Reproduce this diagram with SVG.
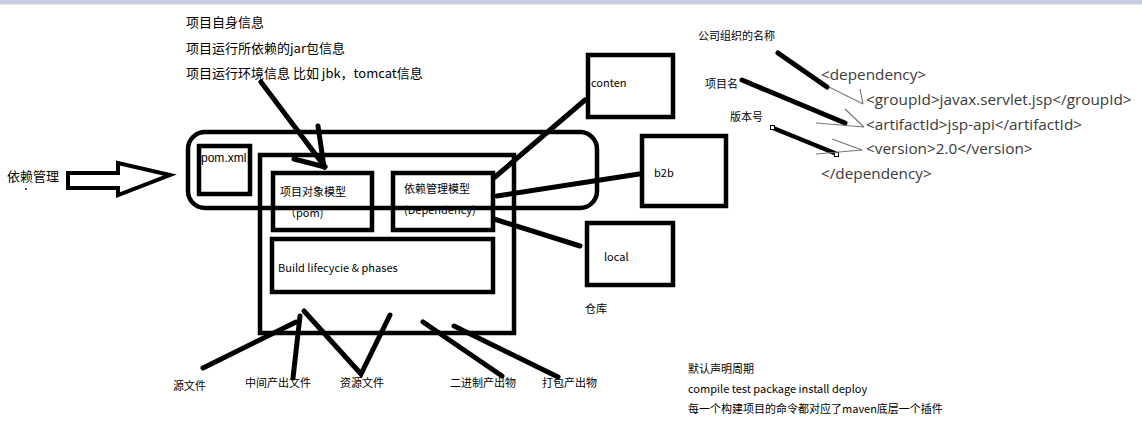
<svg xmlns="http://www.w3.org/2000/svg" width="1142" height="440" viewBox="0 0 1142 440">
<style>
.t{font-family:"Noto Sans CJK SC","Liberation Sans",sans-serif;fill:#000}
.t13{font-size:13px}
.t12{font-size:12px}
.t11{font-size:11px}
.lat{font-family:"Liberation Sans",sans-serif;font-size:12px;fill:#000}
.code{font-family:"Open Sans","Liberation Sans",sans-serif;font-size:15.3px;fill:#3a3a3a}
.box{fill:none;stroke:#000;stroke-width:4.5}
.ln{stroke:#000;stroke-width:5;stroke-linecap:round;fill:none}
.thin{stroke:#777;stroke-width:1.2;fill:none}
</style>
<rect x="0" y="0" width="1142" height="440" fill="#fff"/>
<rect x="0" y="0" width="1142" height="4.5" fill="#c5cfe0"/>

<g id="info-text">
<text class="t t13" x="186" y="27">项目自身信息</text>
<text class="t t13" x="186" y="53">项目运行所依赖的jar包信息</text>
<text class="t t13" x="186" y="78">项目运行环境信息 比如 jbk，tomcat信息</text>
</g>

<g id="dep-mgmt">
<text class="t t13" x="7" y="181">依赖管理</text>
<rect x="25" y="188" width="2" height="2" fill="#555"/>
<polygon points="68,173 118,173 118,163 170,175 118,195 118,188 68,188" fill="#fff" stroke="#000" stroke-width="4" stroke-linejoin="miter"/>
</g>

<g id="outer-pom">
<rect class="box" x="188" y="132" width="409" height="76" rx="17" ry="17"/>
</g>
<g id="pom-xml">
<rect class="box" x="199" y="146" width="51" height="48" fill="#fff"/>
<text class="lat" x="201" y="162">pom.xml</text>
</g>
<g id="maven-core">
<rect class="box" x="260" y="155" width="254" height="178" fill="#fff"/>
</g>
<g id="pom-model">
<rect class="box" x="273" y="173" width="99" height="57"/>
<text class="t t11" x="280" y="196">项目对象模型</text>
<text class="t t11" x="285" y="217">（pom)</text>
</g>
<g id="dependency-model">
<rect class="box" x="393" y="173" width="100" height="57"/>
<text class="t t11" x="404" y="193">依赖管理模型</text>
<text class="t t11" x="404" y="214">(Dependency)</text>
</g>
<g id="build-lifecycle">
<rect class="box" x="272" y="239" width="221" height="53"/>
<text class="t t11" x="278" y="272">Build lifecycie &amp; phases</text>
</g>

<g id="conten">
<rect class="box" x="588" y="55" width="85" height="62"/>
<text class="t t11" x="591" y="87">conten</text>
</g>
<g id="b2b">
<rect class="box" x="642" y="136" width="84" height="70"/>
<text class="t t11" x="654" y="177">b2b</text>
</g>
<g id="local">
<rect class="box" x="587" y="223" width="86" height="62"/>
<text class="t t11" x="604" y="261">local</text>
</g>
<text class="t t11" x="585" y="313">仓库</text>

<g id="connectors">
<line class="ln" x1="261" y1="82" x2="325" y2="167"/>
<line class="ln" x1="318" y1="126" x2="324" y2="167"/>
<line class="ln" x1="294" y1="159" x2="325" y2="167"/>
<line class="ln" x1="495" y1="177" x2="585" y2="100"/>
<line class="ln" x1="497" y1="196" x2="639" y2="174"/>
<line class="ln" x1="494" y1="219" x2="580" y2="246"/>
<line class="ln" x1="203" y1="368" x2="296" y2="322"/>
<line class="ln" x1="293" y1="378" x2="300" y2="316"/>
<polyline class="ln" points="304,311 361,374 390,315"/>
<line class="ln" x1="423" y1="322" x2="502" y2="376"/>
<line class="ln" x1="454" y1="326" x2="558" y2="377"/>
<line class="ln" x1="778" y1="53" x2="827" y2="87"/>
<line class="ln" x1="742" y1="80" x2="845" y2="123"/>
<line x1="773" y1="128" x2="837" y2="154" stroke="#000" stroke-width="4.5"/>
<rect x="770.5" y="125.5" width="4" height="4" fill="#fff" stroke="#000" stroke-width="1"/>
<rect x="834.5" y="152.5" width="4" height="4" fill="#fff" stroke="#000" stroke-width="1"/>
</g>

<g id="artifacts">
<text class="t t11" x="173" y="390">源文件</text>
<text class="t t11" x="245" y="387">中间产出文件</text>
<text class="t t11" x="340" y="387">资源文件</text>
<text class="t t11" x="450" y="387">二进制产出物</text>
<text class="t t11" x="542" y="387">打包产出物</text>
</g>

<g id="coordinates">
<text class="t t11" x="698" y="40">公司组织的名称</text>
<text class="t t11" x="705" y="88">项目名</text>
<text class="t t11" x="730" y="121">版本号</text>
<text class="code" x="821" y="80">&lt;dependency&gt;</text>
<text class="code" x="866" y="105">&lt;groupId&gt;javax.servlet.jsp&lt;/groupId&gt;</text>
<text class="code" x="866" y="130">&lt;artifactId&gt;jsp-api&lt;/artifactId&gt;</text>
<text class="code" x="866" y="154">&lt;version&gt;2.0&lt;/version&gt;</text>
<text class="code" x="821" y="179">&lt;/dependency&gt;</text>
<polyline class="thin" points="829,87 863,104"/>
<polyline class="thin" points="860,89 863,104"/>
<polyline class="thin" points="845,109 864,127"/>
<polyline class="thin" points="816,123 864,127"/>
<polyline class="thin" points="832,139 862,150"/>
<polyline class="thin" points="816,154 862,150"/>
</g>

<g id="lifecycle-notes">
<text class="t t11" x="688" y="373">默认声明周期</text>
<text class="t t11" x="688" y="393">compile test package install deploy</text>
<text class="t t11" x="688" y="413">每一个构建项目的命令都对应了maven底层一个插件</text>
</g>
</svg>
